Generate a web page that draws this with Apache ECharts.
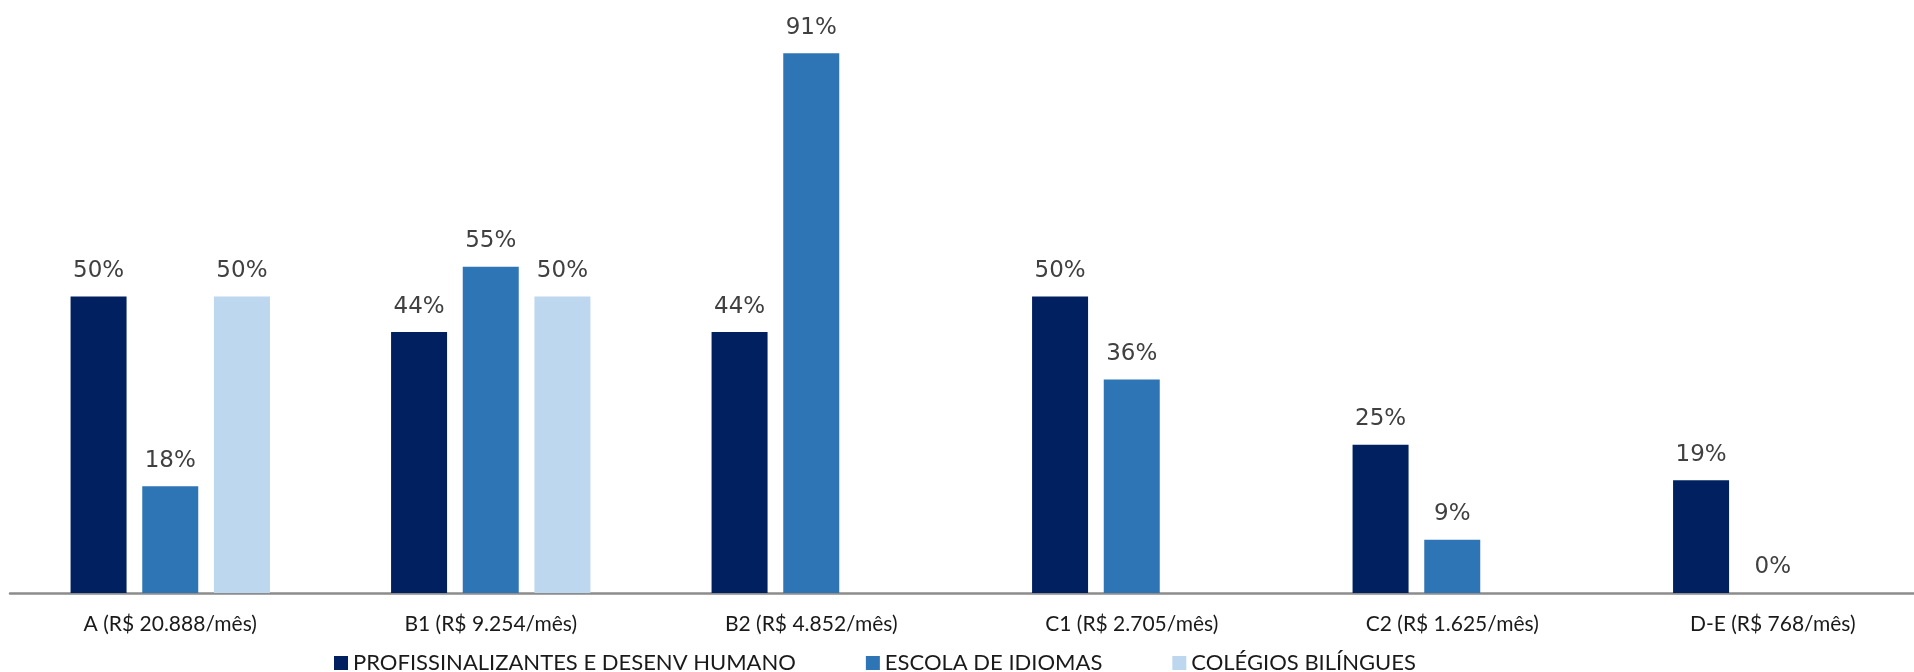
<!DOCTYPE html>
<html>
<head>
<meta charset="utf-8">
<script src="https://cdn.jsdelivr.net/npm/echarts@6/dist/echarts.min.js"></script>
<style>
  html, body { margin: 0; padding: 0; background: #ffffff; overflow: hidden; width: 1914px; height: 672px; }
  /* the canvas runs slightly past the right edge so the last band is cut like the axis */
  #chart { width: 1933px; height: 672px; }
</style>
</head>
<body>
<div id="chart"></div>
<script>
// Faixas de renda (classe social e renda média mensal)
const categories = [
  'A (R$ 20.888/mês)',
  'B1 (R$ 9.254/mês)',
  'B2 (R$ 4.852/mês)',
  'C1 (R$ 2.705/mês)',
  'C2 (R$ 1.625/mês)',
  'D-E (R$ 768/mês)'
];

// Percentual por segmento (null = sem dado na faixa)
const profissionalizantes = [50, 44, 44, 50, 25, 19];
const escolaIdiomas = [18, 55, 91, 36, 9, 0];
const colegiosBilingues = [50, 50, null, null, null, null];

const seriesNames = [
  'PROFISSINALIZANTES E DESENV HUMANO',
  'ESCOLA DE IDIOMAS',
  'COLÉGIOS BILÍNGUES'
];
const seriesColors = ['#002060', '#2E75B6', '#BDD7EE'];

const chart = echarts.init(document.getElementById('chart'));

const labelStyle = {
  show: true,
  position: 'top',
  distance: 14,
  formatter: p => p.value + '%',
  color: '#404040',
  fontFamily: 'DejaVu Sans',
  fontSize: 23
};

function makeSeries(name, data, color) {
  return {
    name: name,
    type: 'bar',
    data: data,
    barWidth: 56,
    barGap: '28%',
    itemStyle: { color: color },
    label: labelStyle,
    emphasis: { disabled: true }
  };
}

chart.setOption({
  animation: false,
  backgroundColor: '#ffffff',
  textStyle: { fontFamily: 'Lato' },
  grid: { left: 10, right: 0, top: 0, bottom: 79, containLabel: false },
  legend: {
    left: 329,
    top: 647,
    itemWidth: 14,
    itemHeight: 14,
    itemGap: 70,
    icon: 'rect',
    textStyle: { fontFamily: 'Lato', fontSize: 22, color: '#1a1a1a' },
    data: seriesNames
  },
  xAxis: {
    type: 'category',
    data: categories,
    axisLine: { show: true, lineStyle: { color: '#8c8c8c', width: 2.5 } },
    axisTick: { show: false },
    axisLabel: {
      margin: 21,
      fontFamily: 'Lato',
      fontSize: 21,
      color: '#1a1a1a'
    }
  },
  yAxis: {
    type: 'value',
    min: 0,
    max: 100,
    show: false,
    splitLine: { show: false }
  },
  series: [
    makeSeries(seriesNames[0], profissionalizantes, seriesColors[0]),
    makeSeries(seriesNames[1], escolaIdiomas, seriesColors[1]),
    makeSeries(seriesNames[2], colegiosBilingues, seriesColors[2])
  ]
});
</script>
</body>
</html>
